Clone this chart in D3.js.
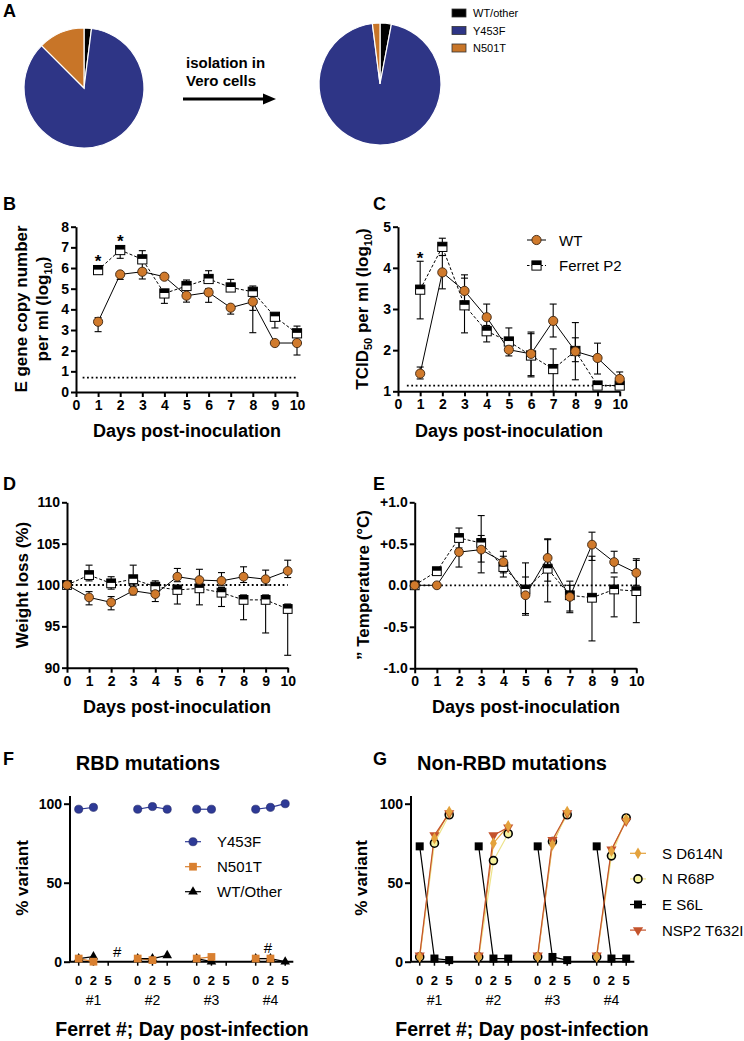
<!DOCTYPE html>
<html><head><meta charset="utf-8">
<script src="https://cdn.jsdelivr.net/npm/d3@7"></script>
<style>
body{margin:0;background:#fff;}
svg{display:block;font-family:"Liberation Sans",Arial,Helvetica,sans-serif;}
</style></head><body>
<svg id="c" width="744" height="1041"></svg>
<script>
// ---------------- DATA ----------------
const pieCategories = ["WT/other", "Y453F", "N501T"];
const pieBefore = [2, 85.5, 12.5];
const pieAfter = [3, 95, 2];

const dayTicks = [0,1,2,3,4,5,6,7,8,9,10];
const bcDays = [1,2,3,4,5,6,7,8,9,10];
const deDays = [0,1,2,3,4,5,6,7,8,9,10];
const seriesNames = ["WT", "Ferret P2"];

// B: E gene copy number (log10)
const bWT   = [3.4, 5.69, 5.82, 5.58, 4.66, 4.82, 4.08, 4.37, 2.37, 2.37];
const bWTlo = [2.92, 5.45, 5.47, 5.45, 4.35, 4.34, 3.77, 2.87, 2.3, 1.79];
const bWThi = [3.6, 5.8, 5.95, 5.65, 4.75, 5.0, 4.15, 4.45, 2.45, 2.45];
const bP2   = [5.9, 6.87, 6.42, 4.77, 5.13, 5.47, 5.06, 4.85, 3.64, 2.84];
const bP2lo = [5.8, 6.47, 5.94, 4.29, 4.95, 5.3, 4.9, 3.95, 3.1, 2.5];
const bP2hi = [6.0, 7.0, 6.84, 4.9, 5.42, 5.87, 5.45, 5.13, 3.84, 3.19];
const bStarDays = [1, 2];
const bStarVals = [6.5, 7.45];
const bLimit = 0.7;

// C: TCID50 per ml (log10)
const cWT   = [1.43, 3.89, 3.44, 2.8, 2.01, 1.91, 2.71, 1.97, 1.81, 1.3];
const cWTlo = [1.3, 3.49, 3.1, 2.45, 1.86, 1.35, 2.32, 1.28, 1.42, 1.2];
const cWThi = [1.59, 4.3, 3.83, 3.12, 2.2, 2.44, 3.12, 2.67, 2.17, 1.47];
const cP2   = [3.47, 4.51, 3.09, 2.46, 2.21, 1.87, 1.54, 1.98, 1.14, 1.14];
const cP2lo = [2.76, 4.3, 2.42, 2.2, 2.0, 1.38, 1.0, 1.72, 1.1, 1.1];
const cP2hi = [4.16, 4.72, 3.75, 2.6, 2.54, 2.4, 2.03, 2.3, 1.18, 1.18];
const cStarDays = [1];
const cStarVals = [4.31];
const cLimit = 1.14;

// D: weight (%)
const dWT   = [100, 98.5, 97.9, 99.3, 98.9, 101.0, 100.6, 100.5, 101.0, 100.7, 101.7];
const dWTlo = [100, 97.6, 97.0, 98.8, 98.0, 100.4, 100.0, 99.9, 100.3, 100.0, 100.9];
const dWThi = [100, 99.2, 98.6, 99.8, 99.6, 102.0, 101.9, 101.5, 102.2, 101.8, 103.0];
const dP2   = [100, 101.2, 100.2, 100.7, 99.8, 99.4, 99.6, 99.07, 98.2, 98.2, 97.1];
const dP2lo = [100, 100.5, 99.5, 100.0, 99.2, 97.7, 97.6, 97.4, 95.8, 94.2, 91.5];
const dP2hi = [100, 102.4, 101.0, 102.4, 100.5, 100.0, 100.2, 99.7, 98.8, 98.8, 97.7];

// E: temperature change (°C)
const eWT   = [0, 0.0, 0.40, 0.43, 0.28, -0.12, 0.33, -0.14, 0.49, 0.28, 0.15];
const eWTlo = [0, -0.02, 0.22, 0.28, 0.15, -0.34, 0.05, -0.31, 0.3, 0.15, 0.0];
const eWThi = [0, 0.02, 0.55, 0.6, 0.41, 0.1, 0.56, 0.0, 0.64, 0.41, 0.32];
const eP2   = [0, 0.17, 0.57, 0.51, 0.22, -0.05, 0.2, -0.12, -0.15, -0.05, -0.07];
const eP2lo = [0, 0.13, 0.45, 0.15, 0.1, -0.36, -0.2, -0.33, -0.67, -0.38, -0.45];
const eP2hi = [0, 0.2, 0.69, 0.84, 0.35, 0.27, 0.55, 0.05, 0.35, 0.1, 0.3];

// F / G: ferret x day
const ferrets = ["#1", "#2", "#3", "#4"];
const dayLabels = ["0", "2", "5"];
const fY453F = [[96.5, 97.7, null], [96.5, 98.2, 96.5], [96.5, 96.5, null], [96.5, 97.7, 100]];
const fN501T = [[2, 0, null], [2, 1, null], [2, 3, null], [2, 2, null]];
const fWTOther = [[2, 3.2, null], [2, 2, 4], [2, 0, null], [2, 2, 0]];
const fHashes = [{ferret: 0, day: 2.6, v: 6.3}, {ferret: 3, day: 0.83, v: 8.7}];
const fLegend = ["Y453F", "N501T", "WT/Other"];

const gSD614N = [[3, 78, 95], [3, 75, 86], [3, 74, 95], [3, 70, 90]];
const gNR68P  = [[3, 75, 93], [3, 64, 81], [3, 76, 93], [3, 67, 91]];
const gES6L   = [[73, 2, 1], [73, 2, 2], [73, 3, 1], [73, 2, 2]];
const gNSP2   = [[4, 80, 94], [4, 80, 85], [4, 77, 94], [4, 71, 89]];
const gLegend = ["S D614N", "N R68P", "E S6L", "NSP2 T632I"];

// ---------------- STYLE ----------------
const NAVY = "#2E3586", PIEORANGE = "#C87528", WTOR = "#D07A2C";
const svg = d3.select("#c");
const FONT = '"Liberation Sans",Arial,Helvetica,sans-serif';

function panelLabel(t, x, y) {
  svg.append("text").attr("x", x).attr("y", y).attr("font-size", 18).attr("font-weight", "bold").text(t);
}
function styleAxis(g, fs, fw) {
  g.attr("font-family", FONT).attr("font-size", fs);
  g.select(".domain").attr("stroke", "#000").attr("stroke-width", 2);
  g.selectAll(".tick line").attr("stroke", "#000").attr("stroke-width", 2);
  g.selectAll(".tick text").attr("fill", "#000").attr("font-weight", fw || "bold").attr("font-size", fs);
}

// ---------------- PANEL A ----------------
panelLabel("A", 3, 17);
const pieColor = d3.scaleOrdinal().domain(pieCategories).range(["#000000", NAVY, PIEORANGE]);
const pie = d3.pie().sort(null).value(d => d.v);
function drawPie(vals, cx, cy, r) {
  const arc = d3.arc().innerRadius(0).outerRadius(r);
  const g = svg.append("g").attr("transform", `translate(${cx},${cy})`);
  g.selectAll("path").data(pie(vals.map((v, i) => ({k: pieCategories[i], v}))))
    .enter().append("path").attr("d", arc).attr("fill", d => pieColor(d.data.k))
    .attr("stroke", "#fff").attr("stroke-width", 1.2);
}
drawPie(pieBefore, 84, 88, 60);
drawPie(pieAfter, 380, 84, 61);
const isoT = svg.append("text").attr("font-size", 15).attr("font-weight", "bold");
isoT.append("tspan").attr("x", 186).attr("y", 68).text("isolation in");
isoT.append("tspan").attr("x", 186).attr("y", 86).text("Vero cells");
svg.append("line").attr("x1", 183).attr("x2", 265).attr("y1", 99).attr("y2", 99).attr("stroke", "#000").attr("stroke-width", 3);
svg.append("path").attr("d", "M263,93.5 L276,99 L263,104.5 Z").attr("fill", "#000");
pieCategories.forEach((k, i) => {
  svg.append("rect").attr("x", 452).attr("y", 9 + i * 17.5).attr("width", 14).attr("height", 8)
    .attr("fill", pieColor(k)).attr("stroke", "#333").attr("stroke-width", 0.8);
  svg.append("text").attr("x", 473).attr("y", 17 + i * 17.5).attr("font-size", 11).text(k);
});

// ---------------- TIME PANELS ----------------
function halfSquare(g, cx, cy, s) {
  const q = g.append("g");
  q.append("rect").attr("x", cx - s/2).attr("y", cy - s/2).attr("width", s).attr("height", s)
    .attr("fill", "#fff").attr("stroke", "#000").attr("stroke-width", 1);
  q.append("rect").attr("x", cx - s/2).attr("y", cy - s/2).attr("width", s).attr("height", s * 0.45)
    .attr("fill", "#000");
}
function orangeCircle(g, cx, cy, r) {
  g.append("circle").attr("cx", cx).attr("cy", cy).attr("r", r)
    .attr("fill", WTOR).attr("stroke", "#3b2410").attr("stroke-width", 0.9);
}

function timePanel(o) {
  const x = d3.scaleLinear().domain([0, 10]).range(o.xr);
  const y = d3.scaleLinear().domain(o.yd).range(o.yr);
  const g = svg.append("g");
  // reference dotted line
  if (o.limit !== undefined) {
    g.append("line").attr("x1", x(o.limitFrom)).attr("x2", x(10)).attr("y1", y(o.limit)).attr("y2", y(o.limit))
      .attr("stroke", "#000").attr("stroke-width", 1.8).attr("stroke-dasharray", "1.8,2.6");
  }
  const xa = g.append("g").attr("transform", `translate(0,${o.yr[0]})`)
    .call(d3.axisBottom(x).tickValues(dayTicks).tickSize(5).tickSizeOuter(0).tickPadding(3));
  styleAxis(xa, 14);
  const ya = g.append("g").attr("transform", `translate(${o.xr[0]},0)`)
    .call(d3.axisLeft(y).tickValues(o.yticks).tickSize(5).tickSizeOuter(0).tickPadding(2).tickFormat(o.yfmt || d3.format("d")));
  styleAxis(ya, 14);
  // series
  o.series.forEach(s => {
    const pts = s.days.map((d, i) => ({d, v: s.v[i], lo: s.lo[i], hi: s.hi[i]}));
    g.append("path").datum(pts).attr("fill", "none").attr("stroke", "#000").attr("stroke-width", 1)
      .attr("stroke-dasharray", s.dash ? "3,2" : null)
      .attr("d", d3.line().x(p => x(p.d)).y(p => y(p.v)));
    pts.forEach(p => {
      const cx = x(p.d);
      if (p.hi - p.lo > 0.001) {
        g.append("line").attr("x1", cx).attr("x2", cx).attr("y1", y(p.lo)).attr("y2", y(p.hi)).attr("stroke", "#000").attr("stroke-width", 1.1);
        [p.lo, p.hi].forEach(e => g.append("line").attr("x1", cx - 3.5).attr("x2", cx + 3.5).attr("y1", y(e)).attr("y2", y(e)).attr("stroke", "#000").attr("stroke-width", 1.1));
      }
    });
    s.pts = pts;
  });
  o.series.forEach(s => {
    s.pts.forEach(p => {
      if (s.type === "circle") orangeCircle(g, x(p.d), y(p.v), o.r);
      else halfSquare(g, x(p.d), y(p.v), o.r * 2);
    });
  });
  if (o.stars) o.stars.days.forEach((d, i) => {
    g.append("text").attr("x", x(d)).attr("y", y(o.stars.vals[i]) + 9).attr("text-anchor", "middle")
      .attr("font-size", 17).attr("font-weight", "bold").text("*");
  });
  return {x, y};
}

// B
panelLabel("B", 3, 210);
timePanel({
  xr: [76, 297], yd: [0, 8], yr: [392, 226.7], yticks: [0,1,2,3,4,5,6,7,8], r: 4.6,
  limit: bLimit, limitFrom: 0.3,
  series: [
    {days: bcDays, v: bP2, lo: bP2lo, hi: bP2hi, type: "square", dash: true},
    {days: bcDays, v: bWT, lo: bWTlo, hi: bWThi, type: "circle"}
  ],
  stars: {days: bStarDays, vals: bStarVals}
});
const bl1 = svg.append("text").attr("transform", "translate(21,309) rotate(-90)").attr("text-anchor", "middle")
  .attr("dy", "0.35em").attr("font-size", 17).attr("font-weight", "bold").text("E gene copy number");
const bl2 = svg.append("text").attr("transform", "translate(42,309) rotate(-90)").attr("text-anchor", "middle")
  .attr("dy", "0.35em").attr("font-size", 17).attr("font-weight", "bold");
bl2.append("tspan").text("per ml (log");
bl2.append("tspan").attr("font-size", 11).attr("dy", 4).text("10");
bl2.append("tspan").attr("dy", -4).text(")");
svg.append("text").attr("x", 187).attr("y", 437).attr("text-anchor", "middle").attr("font-size", 18).attr("font-weight", "bold").text("Days post-inoculation");

// C
panelLabel("C", 373, 210);
timePanel({
  xr: [398, 619.7], yd: [1, 5], yr: [391.3, 226.7], yticks: [1,2,3,4,5], r: 4.6,
  limit: cLimit, limitFrom: 0.4,
  series: [
    {days: bcDays, v: cP2, lo: cP2lo, hi: cP2hi, type: "square", dash: true},
    {days: bcDays, v: cWT, lo: cWTlo, hi: cWThi, type: "circle"}
  ],
  stars: {days: cStarDays, vals: cStarVals}
});
const cl = svg.append("text").attr("transform", "translate(362,309) rotate(-90)").attr("text-anchor", "middle")
  .attr("dy", "0.35em").attr("font-size", 17).attr("font-weight", "bold");
cl.append("tspan").text("TCID");
cl.append("tspan").attr("font-size", 11).attr("dy", 4).text("50");
cl.append("tspan").attr("dy", -4).text(" per ml (log");
cl.append("tspan").attr("font-size", 11).attr("dy", 4).text("10");
cl.append("tspan").attr("dy", -4).text(")");
svg.append("text").attr("x", 509).attr("y", 437).attr("text-anchor", "middle").attr("font-size", 18).attr("font-weight", "bold").text("Days post-inoculation");
// C legend
[0, 1].forEach(i => {
  const yy = 240 + i * 25.5;
  svg.append("line").attr("x1", 527).attr("x2", 546).attr("y1", yy).attr("y2", yy).attr("stroke", "#000").attr("stroke-width", 1)
    .attr("stroke-dasharray", i ? "2.5,2" : null);
  if (i === 0) orangeCircle(svg, 536.5, yy, 4.6); else halfSquare(svg, 536.5, yy, 9.2);
  svg.append("text").attr("x", 559).attr("y", yy + 5.5).attr("font-size", 15).text(seriesNames[i]);
});

// D
panelLabel("D", 3, 490);
timePanel({
  xr: [67, 287.7], yd: [90, 110], yr: [667.7, 502.3], yticks: [90, 95, 100, 105, 110], r: 4.4,
  limit: 100, limitFrom: 0,
  series: [
    {days: deDays, v: dP2, lo: dP2lo, hi: dP2hi, type: "square", dash: true},
    {days: deDays, v: dWT, lo: dWTlo, hi: dWThi, type: "circle"}
  ]
});
svg.append("text").attr("transform", "translate(22,585) rotate(-90)").attr("text-anchor", "middle")
  .attr("dy", "0.35em").attr("font-size", 17).attr("font-weight", "bold").text("Weight loss (%)");
svg.append("text").attr("x", 177).attr("y", 713).attr("text-anchor", "middle").attr("font-size", 18).attr("font-weight", "bold").text("Days post-inoculation");

// E
panelLabel("E", 373, 490);
timePanel({
  xr: [414.7, 636.3], yd: [-1, 1], yr: [668.3, 502.3], yticks: [-1, -0.5, 0, 0.5, 1], r: 4.4,
  limit: 0, limitFrom: 0,
  yfmt: d => (d > 0 ? "+" : "") + d.toFixed(1),
  series: [
    {days: deDays, v: eP2, lo: eP2lo, hi: eP2hi, type: "square", dash: true},
    {days: deDays, v: eWT, lo: eWTlo, hi: eWThi, type: "circle"}
  ]
});
svg.append("text").attr("transform", "translate(363,585) rotate(-90)").attr("text-anchor", "middle")
  .attr("dy", "0.35em").attr("font-size", 17).attr("font-weight", "bold").text("” Temperature (°C)");
svg.append("text").attr("x", 526).attr("y", 713).attr("text-anchor", "middle").attr("font-size", 18).attr("font-weight", "bold").text("Days post-inoculation");

// ---------------- F & G ----------------
function markerPath(type, size) {
  const m = {circle: d3.symbolCircle, square: d3.symbolSquare, triangle: d3.symbolTriangle, diamond: d3.symbolDiamond, tdown: d3.symbolTriangle}[type];
  return d3.symbol().type(m).size(size)();
}
function drawMarker(g, type, cx, cy, st) {
  const p = g.append("path").attr("d", markerPath(type, st.size))
    .attr("transform", `translate(${cx},${cy})` + (type === "tdown" ? " rotate(180)" : ""))
    .attr("fill", st.fill).attr("stroke", st.stroke || "none").attr("stroke-width", st.sw || 0);
  return p;
}

function mutPanel(o) {
  const x = d3.scaleLinear().domain([0, 14]).range(o.xr);
  const y = d3.scaleLinear().domain([0, 100]).range([961.7, 803.7]);
  const slot = (f, d) => f * 4 + d;
  const g = svg.append("g");
  // x axis line
  g.append("line").attr("x1", o.xr[0] - 8.7).attr("x2", x(14.55)).attr("y1", y(0)).attr("y2", y(0)).attr("stroke", "#000").attr("stroke-width", 2);
  const tickSlots = [];
  ferrets.forEach((f, fi) => dayLabels.forEach((dl, di) => tickSlots.push({s: slot(fi, di), dl})));
  tickSlots.forEach(t => {
    g.append("line").attr("x1", x(t.s)).attr("x2", x(t.s)).attr("y1", y(0)).attr("y2", y(0) + 4).attr("stroke", "#000").attr("stroke-width", 1.5);
    g.append("text").attr("x", x(t.s)).attr("y", 985).attr("text-anchor", "middle").attr("font-size", 13).attr("font-weight", "bold").text(t.dl);
  });
  ferrets.forEach((f, fi) => g.append("text").attr("x", x(slot(fi, 1))).attr("y", 1005).attr("text-anchor", "middle").attr("font-size", 14).text(f));
  const ya = g.append("g").attr("transform", `translate(${o.xr[0] - 8.7},0)`)
    .call(d3.axisLeft(y).tickValues([0, 50, 100]).tickSize(6).tickSizeOuter(0).tickPadding(2));
  ya.select(".domain").remove();
  g.append("line").attr("x1", o.xr[0] - 8.7).attr("x2", o.xr[0] - 8.7).attr("y1", y(0)).attr("y2", 796).attr("stroke", "#000").attr("stroke-width", 2);
  styleAxis(ya, 14);
  // series
  o.series.forEach(s => {
    s.vals.forEach((row, fi) => {
      const pts = row.map((v, di) => ({s: slot(fi, di), v})).filter(p => p.v !== null);
      g.append("path").datum(pts).attr("fill", "none").attr("stroke", s.line).attr("stroke-width", 1.2)
        .attr("d", d3.line().x(p => x(p.s)).y(p => y(p.v)));
    });
  });
  o.drawOrder.forEach(idx => {
    const s = o.series[idx];
    s.vals.forEach((row, fi) => row.forEach((v, di) => {
      if (v !== null) drawMarker(g, s.type, x(slot(fi, di)), y(v), s.st);
    }));
  });
  if (o.hashes) o.hashes.forEach(h => g.append("text").attr("x", x(slot(h.ferret, h.day))).attr("y", y(h.v) + 5)
    .attr("text-anchor", "middle").attr("font-size", 15).text("#"));
  // legend
  o.series.forEach((s, i) => {
    const yy = o.legY + i * o.legStep;
    g.append("line").attr("x1", o.legX).attr("x2", o.legX + 16).attr("y1", yy).attr("y2", yy).attr("stroke", s.line).attr("stroke-width", 1.2);
    drawMarker(g, s.type, o.legX + 8, yy, s.st);
    g.append("text").attr("x", o.legX + 32).attr("y", yy + 5.5).attr("font-size", 15).text(s.name);
  });
  return {x, y};
}

panelLabel("F", 3, 765);
svg.append("text").attr("x", 148).attr("y", 770).attr("text-anchor", "middle").attr("font-size", 20).attr("font-weight", "bold").text("RBD mutations");
mutPanel({
  xr: [78.7, 285.2],
  series: [
    {name: fLegend[0], vals: fY453F, type: "circle", line: "#2E3A96", st: {size: 52, fill: "#2E3A96", stroke: "#1d2466", sw: 0.6}},
    {name: fLegend[1], vals: fN501T, type: "square", line: "#D98030", st: {size: 60, fill: "#D98030"}},
    {name: fLegend[2], vals: fWTOther, type: "triangle", line: "#000", st: {size: 40, fill: "#000"}}
  ],
  drawOrder: [2, 1, 0],
  hashes: fHashes,
  legX: 185, legY: 841.7, legStep: 25
});
svg.append("text").attr("transform", "translate(22,878) rotate(-90)").attr("text-anchor", "middle")
  .attr("dy", "0.35em").attr("font-size", 17).attr("font-weight", "bold").text("% variant");
svg.append("text").attr("x", 182).attr("y", 1036).attr("text-anchor", "middle").attr("font-size", 19.5).attr("font-weight", "bold").text("Ferret #; Day post-infection");

panelLabel("G", 373, 765);
svg.append("text").attr("x", 512).attr("y", 770).attr("text-anchor", "middle").attr("font-size", 20).attr("font-weight", "bold").text("Non-RBD mutations");
mutPanel({
  xr: [419.7, 626.2],
  series: [
    {name: gLegend[0], vals: gSD614N, type: "diamond", line: "#E4A23C", st: {size: 40, fill: "#E4A23C"}},
    {name: gLegend[1], vals: gNR68P, type: "circle", line: "#EDE38A", st: {size: 50, fill: "#F6F29C", stroke: "#000", sw: 1.6}},
    {name: gLegend[2], vals: gES6L, type: "square", line: "#000", st: {size: 64, fill: "#000"}},
    {name: gLegend[3], vals: gNSP2, type: "tdown", line: "#C4532C", st: {size: 45, fill: "#C4532C"}}
  ],
  drawOrder: [1, 2, 3, 0],
  legX: 630, legY: 853.3, legStep: 25.6
});
svg.append("text").attr("transform", "translate(361,878) rotate(-90)").attr("text-anchor", "middle")
  .attr("dy", "0.35em").attr("font-size", 17).attr("font-weight", "bold").text("% variant");
svg.append("text").attr("x", 522).attr("y", 1036).attr("text-anchor", "middle").attr("font-size", 19.5).attr("font-weight", "bold").text("Ferret #; Day post-infection");
</script>
</body></html>
